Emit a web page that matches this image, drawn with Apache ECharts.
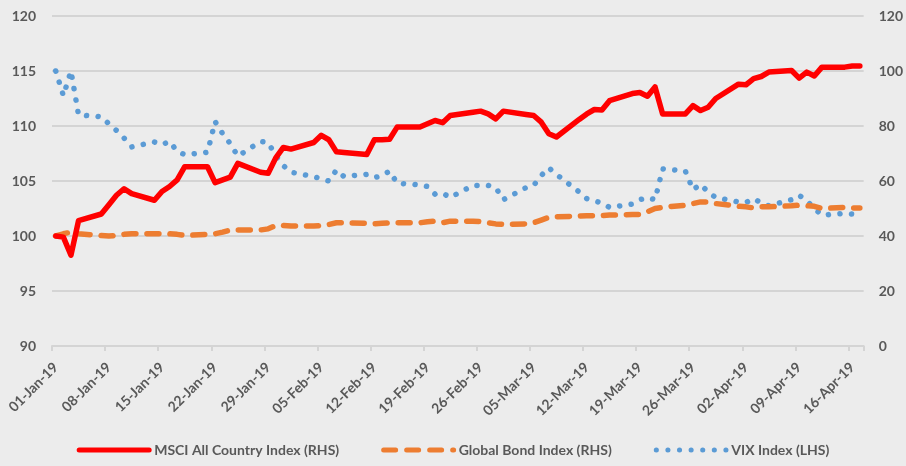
<!DOCTYPE html>
<html>
<head>
<meta charset="utf-8">
<script src="https://cdn.jsdelivr.net/npm/echarts@6/dist/echarts.min.js"></script>
<style>
html,body{margin:0;padding:0;background:#ECECEC;}
#chart{width:906px;height:466px;}
</style>
</head>
<body>
<div id="chart"></div>
<script>
// Trading dates (x positions on a daily calendar axis)
var tradingDates = [
  '01-Jan-19','02-Jan-19','03-Jan-19','04-Jan-19','07-Jan-19','08-Jan-19','09-Jan-19','10-Jan-19','11-Jan-19',
  '14-Jan-19','15-Jan-19','16-Jan-19','17-Jan-19','18-Jan-19','21-Jan-19','22-Jan-19','23-Jan-19','24-Jan-19','25-Jan-19',
  '28-Jan-19','29-Jan-19','30-Jan-19','31-Jan-19',
  '01-Feb-19','04-Feb-19','05-Feb-19','06-Feb-19','07-Feb-19','08-Feb-19','11-Feb-19','12-Feb-19','13-Feb-19','14-Feb-19','15-Feb-19',
  '18-Feb-19','19-Feb-19','20-Feb-19','21-Feb-19','22-Feb-19','25-Feb-19','26-Feb-19','27-Feb-19','28-Feb-19',
  '01-Mar-19','04-Mar-19','05-Mar-19','06-Mar-19','07-Mar-19','08-Mar-19','11-Mar-19','12-Mar-19','13-Mar-19','14-Mar-19','15-Mar-19',
  '18-Mar-19','19-Mar-19','20-Mar-19','21-Mar-19','22-Mar-19','25-Mar-19','26-Mar-19','27-Mar-19','28-Mar-19','29-Mar-19',
  '01-Apr-19','02-Apr-19','03-Apr-19','04-Apr-19','05-Apr-19','08-Apr-19','09-Apr-19','10-Apr-19','11-Apr-19','12-Apr-19',
  '15-Apr-19','16-Apr-19','17-Apr-19'
];
var msci = [
  100.0, 99.9, 98.25, 101.4, 102.0, 102.85, 103.7, 104.3, 103.85, 103.25, 104.05, 104.5, 105.1, 106.3, 106.3, 104.85, 105.1, 105.35, 106.6, 105.8, 105.7, 107.1, 108.05,
  107.9, 108.5, 109.15, 108.75, 107.65, 107.6, 107.4, 108.75, 108.75, 108.8, 109.9, 109.9, 110.2, 110.5, 110.3, 110.95, 111.25, 111.35, 111.1, 110.65,
  111.35, 111.05, 110.95, 110.35, 109.3, 109.0, 110.6, 111.1, 111.5, 111.45, 112.3, 112.95, 113.05, 112.7, 113.55, 111.1, 111.1, 111.85, 111.4, 111.7, 112.5,
  113.8, 113.75, 114.3, 114.5, 114.9, 115.05, 114.35, 114.9, 114.55, 115.35, 115.35, 115.45, 115.45
];
var bond = [
  100.0, 100.2, 100.35, 100.2, 100.05, 100.0, 100.05, 100.15, 100.2, 100.2, 100.2, 100.2, 100.15, 100.05, 100.15, 100.2, 100.35, 100.55, 100.55, 100.55, 100.65, 100.95, 100.95,
  100.9, 100.9, 100.95, 101.05, 101.2, 101.2, 101.15, 101.1, 101.15, 101.2, 101.2, 101.2, 101.3, 101.35, 101.2, 101.35, 101.35, 101.3, 101.2, 101.1,
  101.05, 101.1, 101.2, 101.45, 101.7, 101.75, 101.8, 101.85, 101.85, 101.85, 101.9, 101.95, 101.95, 102.2, 102.5, 102.6, 102.8, 102.95, 103.1, 103.1, 102.95,
  102.7, 102.65, 102.55, 102.65, 102.65, 102.75, 102.8, 102.75, 102.7, 102.5, 102.6, 102.55, 102.55
];
var vix = [
  100, 91, 100, 84, 83.4, 80.8, 78.4, 75.6, 72.4, 74.2, 73.2, 74.4, 70.8, 69.6, 70.4, 81.6, 77.2, 73.6, 69, 74.4, 74, 69.2, 65.6,
  63.2, 61.6, 60.8, 60, 64, 61.6, 62.4, 61.2, 62, 63.6, 59.2, 58.6, 58, 55.2, 55.6, 54, 58.4, 58.4, 58.4, 57.6,
  53.2, 57.6, 58.4, 62, 64.8, 62.4, 56, 53.6, 52.8, 52, 50.4, 51.6, 53.2, 54, 53.2, 64.4, 63.6, 56.8, 58.8, 56, 54,
  52.4, 52.2, 53.6, 52, 51, 53.2, 54.8, 52.8, 50, 47.6, 48.2, 48, 47.6
];
var seriesNames = ['MSCI All Country Index (RHS)', 'Global Bond Index (RHS)', 'VIX Index (LHS)'];
var leftTicks = {min: 90, max: 120, step: 5};
var rightTicks = {min: 0, max: 120, step: 20};

// Calendar axis: every day from the first to the last trading date
var months = ['Jan','Feb','Mar','Apr','May','Jun','Jul','Aug','Sep','Oct','Nov','Dec'];
function fmt(dt){
  var d = dt.getUTCDate();
  return (d < 10 ? '0' + d : '' + d) + '-' + months[dt.getUTCMonth()] + '-' + String(dt.getUTCFullYear()).slice(2);
}
function parse(s){
  var p = s.split('-');
  return Date.UTC(2000 + (+p[2]), months.indexOf(p[1]), +p[0]);
}
var calendar = [];
for (var t = parse(tradingDates[0]); t <= parse(tradingDates[tradingDates.length - 1]); t += 86400000) {
  calendar.push(fmt(new Date(t)));
}
function pairs(vals){ return tradingDates.map(function(d, i){ return [d, vals[i]]; }); }

var FONT = 'Lato';
var GREY = '#595959';
var chart = echarts.init(document.getElementById('chart'), null, {renderer: 'canvas'});
chart.setOption({
  backgroundColor: '#ECECEC',
  animation: false,
  grid: {left: 52, right: 41, top: 16, bottom: 120, containLabel: false},
  legend: {
    bottom: 4,
    left: 'center',
    itemWidth: 70,
    itemHeight: 14,
    itemGap: 42,
    itemStyle: {opacity: 0, borderWidth: 0},
    lineStyle: {width: 5},
    textStyle: {color: GREY, fontFamily: FONT, fontWeight: 'bold', fontSize: 14},
    data: seriesNames
  },
  xAxis: {
    type: 'category',
    data: calendar,
    boundaryGap: true,
    axisLine: {show: true, lineStyle: {color: '#D4D4D4', width: 2}},
    axisTick: {show: true, interval: 6, length: 5, lineStyle: {color: '#D4D4D4', width: 2}},
    axisLabel: {interval: 6, rotate: 45, margin: 19, color: GREY, fontFamily: FONT, fontWeight: 'bold', fontSize: 14}
  },
  yAxis: [
    {
      type: 'value', min: leftTicks.min, max: leftTicks.max, interval: leftTicks.step,
      axisLine: {show: false}, axisTick: {show: false},
      splitLine: {show: true, lineStyle: {color: '#D4D4D4', width: 2}},
      axisLabel: {margin: 16, color: GREY, fontFamily: FONT, fontWeight: 'bold', fontSize: 14}
    },
    {
      type: 'value', min: rightTicks.min, max: rightTicks.max, interval: rightTicks.step,
      axisLine: {show: false}, axisTick: {show: false}, splitLine: {show: false},
      axisLabel: {margin: 15, color: GREY, fontFamily: FONT, fontWeight: 'bold', fontSize: 14}
    }
  ],
  series: [
    {
      name: seriesNames[0], type: 'line', yAxisIndex: 0, data: pairs(msci),
      showSymbol: false, symbol: 'none', z: 4,
      lineStyle: {color: '#FF0000', width: 5.5, join: 'round', cap: 'round'},
      itemStyle: {color: '#FF0000'}
    },
    {
      name: seriesNames[1], type: 'line', yAxisIndex: 0, data: pairs(bond),
      showSymbol: false, symbol: 'none', z: 3,
      lineStyle: {color: '#ED7D31', width: 5.5, type: [12, 11], cap: 'round', join: 'round'},
      itemStyle: {color: '#ED7D31'}
    },
    {
      name: seriesNames[2], type: 'line', yAxisIndex: 1, data: pairs(vix),
      showSymbol: false, symbol: 'none', z: 2,
      lineStyle: {color: '#5B9BD5', width: 5.5, type: [0.1, 11.5], cap: 'round', join: 'round'},
      itemStyle: {color: '#5B9BD5'}
    }
  ]
});
</script>
</body>
</html>
